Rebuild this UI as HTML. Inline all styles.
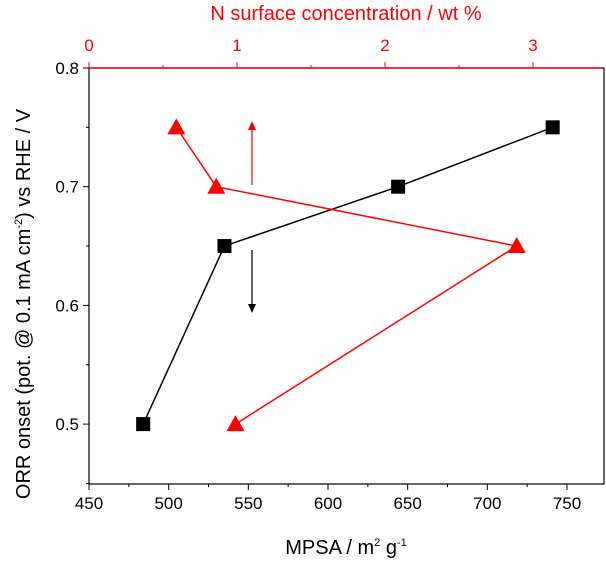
<!DOCTYPE html>
<html><head><meta charset="utf-8"><style>
body{margin:0;background:#fff;font-family:"Liberation Sans",sans-serif}
</style></head><body>
<svg id="c" width="606" height="561" xmlns="http://www.w3.org/2000/svg" font-family="Liberation Sans, sans-serif"></svg>
<script>
const mpsa=[484,535,644,741];
const orrBlack=[0.5,0.65,0.7,0.75];
const nConc=[0.59,0.86,2.89,0.99];
const orrRed=[0.75,0.7,0.65,0.5];
const xTicks=[450,500,550,600,650,700,750];
const topTicks=[0,1,2,3];
const yTicks=[0.5,0.6,0.7,0.8];
const L=89,R=604,T=68,B=484;
const xs=v=>L+(v-450)*(567-89)/300;
const xn=v=>L+v*148;
const ys=v=>68+(0.8-v)*1187;
const svg=document.getElementById('c');
const NS='http://www.w3.org/2000/svg';
function mk(t,a,p){const e=document.createElementNS(NS,t);for(const k in a)e.setAttribute(k,a[k]);(p||svg).appendChild(e);return e;}
let e;
e=mk('rect',{x:L,y:T,width:R-L,height:B-T,fill:'none',stroke:'#000','stroke-width':1.2});


e=mk('line',{x1:L,y1:T,x2:R,y2:T,stroke:'#f00','stroke-width':1.4});


xTicks.forEach(v=>{mk('line',{x1:xs(v),y1:B,x2:xs(v),y2:B+6,stroke:'#000'});
 e=mk('text',{x:xs(v),y:B+25,'font-size':17,'text-anchor':'middle'});e.textContent=v;
 
 
 if(v<750)mk('line',{x1:xs(v+25),y1:B,x2:xs(v+25),y2:B+3,stroke:'#000'});});
topTicks.forEach(v=>{mk('line',{x1:xn(v),y1:T,x2:xn(v),y2:T-6,stroke:'#f00'});
 e=mk('text',{x:xn(v),y:T-17,'font-size':17,'text-anchor':'middle',fill:'#f00'});e.textContent=v;
 
 
 mk('line',{x1:xn(v+0.5),y1:T,x2:xn(v+0.5),y2:T-3,stroke:'#f00'});});
yTicks.forEach(v=>{mk('line',{x1:L,y1:ys(v),x2:L-6,y2:ys(v),stroke:'#000'});
 e=mk('text',{x:L-10,y:ys(v)+6,'font-size':17,'text-anchor':'end'});e.textContent=v.toFixed(1);
 
 
 mk('line',{x1:L,y1:ys(v-0.05),x2:L-3,y2:ys(v-0.05),stroke:'#000'});});
e=mk('polyline',{points:mpsa.map((v,i)=>xs(v)+','+ys(orrBlack[i])).join(' '),fill:'none',stroke:'#000','stroke-width':1.5});


e=mk('polyline',{points:nConc.map((v,i)=>xn(v)+','+ys(orrRed[i])).join(' '),fill:'none',stroke:'#f00','stroke-width':1.5});


mpsa.forEach((v,i)=>{e=mk('rect',{x:xs(v)-7,y:ys(orrBlack[i])-7,width:14,height:14,fill:'#000'});
 
 });
nConc.forEach((v,i)=>{const x=xn(v),y=ys(orrRed[i]);
 e=mk('polygon',{points:`${x-9},${y+7} ${x+9},${y+7} ${x},${y-9}`,fill:'#f00'});
 
 });
mk('line',{x1:252,y1:185,x2:252,y2:128,stroke:'#f00','stroke-width':1.2});
e=mk('polygon',{points:'248,130 256,130 252,121',fill:'#f00'});


mk('line',{x1:252,y1:250,x2:252,y2:306,stroke:'#000','stroke-width':1.2});
e=mk('polygon',{points:'248,304 256,304 252,313',fill:'#000'});


e=mk('text',{x:346,y:554,'font-size':20,'text-anchor':'middle'});
e.innerHTML='MPSA / m<tspan font-size="11" dy="-8">2</tspan><tspan dy="8"> g</tspan><tspan font-size="11" dy="-8">-1</tspan>';


e=mk('text',{x:346,y:20,'font-size':20,'text-anchor':'middle',fill:'#f00'});
e.textContent='N surface concentration / wt %';


e=mk('text',{x:0,y:0,'font-size':20,'text-anchor':'middle',transform:'translate(30,304) rotate(-90)'});
e.innerHTML='ORR onset (pot. @ 0.1 mA cm<tspan font-size="11" dy="-8">-2</tspan><tspan dy="8">) vs RHE / V</tspan>';


</script>
</body></html>
